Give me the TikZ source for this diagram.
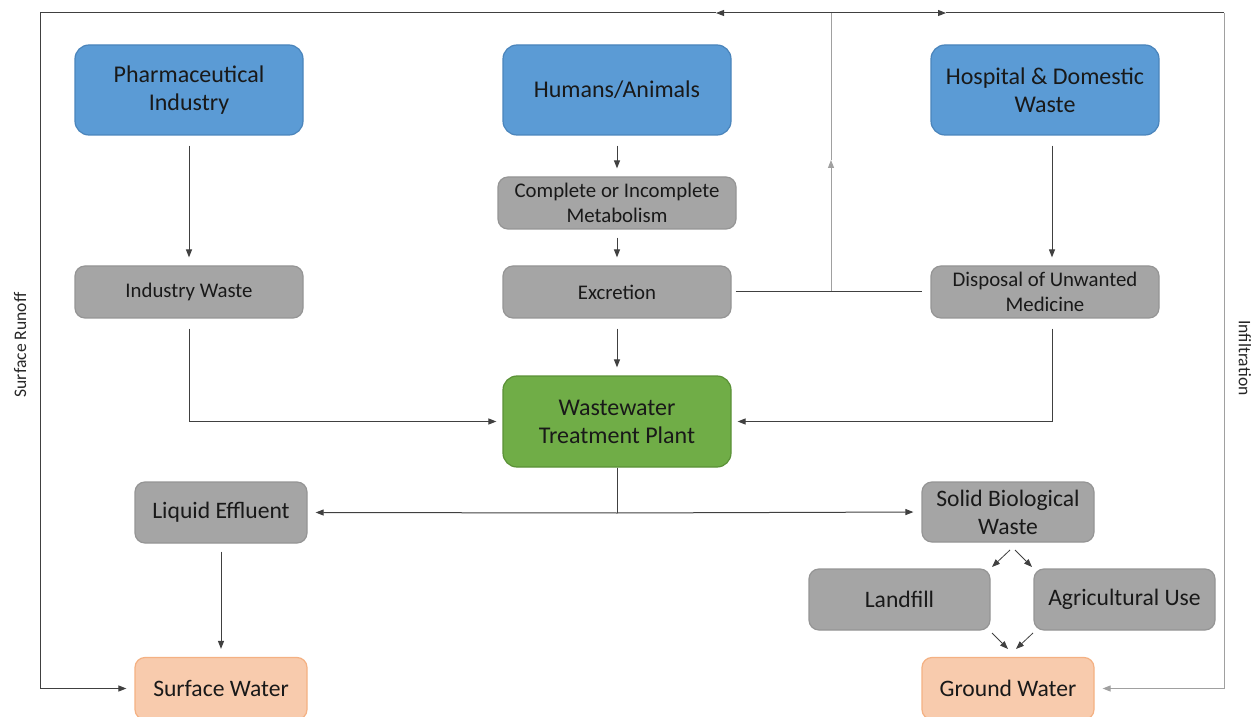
\documentclass[tikz,border=0pt]{standalone}
\usepackage{fontspec}
\setmainfont{Carlito}
\usetikzlibrary{arrows.meta,calc}
\definecolor{bluef}{HTML}{5B9BD5}
\definecolor{blueb}{HTML}{4A84BB}
\definecolor{grayf}{HTML}{A5A5A5}
\definecolor{grayb}{HTML}{959595}
\definecolor{greenf}{HTML}{70AD47}
\definecolor{greenb}{HTML}{5A9136}
\definecolor{peachf}{HTML}{F8CBAD}
\definecolor{peachb}{HTML}{F4B183}
\definecolor{ln}{HTML}{404040}
\definecolor{lg}{HTML}{A0A0A0}
\tikzset{
  x=0.5pt,y=-0.5pt,
  box/.style={rounded corners=7pt,line width=0.6pt,align=center,inner sep=1pt,text=black!90},
  bluebox/.style={box,fill=bluef,draw=blueb,minimum width=114pt,minimum height=45pt,font=\fontsize{12}{14}\selectfont},
  graybox/.style={box,fill=grayf,draw=grayb,rounded corners=5pt,minimum width=114pt,minimum height=26pt,font=\fontsize{10.4}{12.5}\selectfont},
  graybig/.style={box,fill=grayf,draw=grayb,rounded corners=5pt,minimum width=86pt,minimum height=30.5pt,font=\fontsize{11.8}{14}\selectfont},
  greenbox/.style={box,fill=greenf,draw=greenb,minimum width=114pt,minimum height=45.5pt,font=\fontsize{12}{14}\selectfont},
  peachbox/.style={box,fill=peachf,draw=peachb,rounded corners=5pt,minimum width=86pt,minimum height=31pt,font=\fontsize{11.8}{14}\selectfont},
  con/.style={draw=ln,line width=0.5pt},
  arr/.style={con,-{Triangle[length=4pt,width=3pt]}},
  sideLabel/.style={font=\fontsize{8.8}{10}\selectfont,text=black!85}
}
\begin{document}
\begin{tikzpicture}
\useasboundingbox (0,0) rectangle (1255,717);
\clip (0,0) rectangle (1255,717);
% nodes
\node[bluebox] (ph) at (189,90) {Pharmaceutical\\Industry};
\node[bluebox] (hu) at (617,90) {Humans/Animals};
\node[bluebox] (ho) at (1045,90) {Hospital \& Domestic\\Waste};
\node[graybox,minimum width=119pt] (me) at (617,203) {Complete or Incomplete\\Metabolism};
\node[graybox] (iw) at (189,292) {Industry Waste};
\node[graybox] (ex) at (617,292) {Excretion};
\node[graybox] (di) at (1045,292) {Disposal of Unwanted\\Medicine};
\node[greenbox] (ww) at (617,421.5) {Wastewater\\Treatment Plant};
\node[graybig] (le) at (221,512.5) {Liquid Effluent};
\node[graybig,minimum height=30pt] (sb) at (1008,512) {Solid Biological\\Waste};
\node[graybig,minimum width=90.5pt] (lf) at (899.5,599.5) {Landfill};
\node[graybig,minimum width=90.5pt] (ag) at (1124.5,599.5) {Agricultural Use};
\node[peachbox] (sw) at (221,688.5) {Surface Water};
\node[peachbox] (gw) at (1008,688.5) {Ground Water};
% labels
\node[sideLabel,rotate=90] (sr) at (20,345) {Surface Runoff};
\node[sideLabel,rotate=-90] (inf) at (1245,358) {Infiltration};
% coordinates
\coordinate (j1) at (831,291);
\coordinate (jm) at (831,160);
\coordinate (jt) at (831,13);
\coordinate (tl) at (40,13);
\coordinate (tr) at (1224,13);
\coordinate (al) at (716,13);
\coordinate (ar) at (946,13);
\coordinate (wb) at (617,513);
\coordinate (s1) at (1010,550);
\coordinate (s2) at (1015,550);
\coordinate (l1) at (992,567);
\coordinate (a1) at (1032,567);
\coordinate (l2) at (992,633);
\coordinate (a2) at (1033,633);
\coordinate (g1) at (1008,649);
\coordinate (g2) at (1016,649);
% connectors
\draw[arr,shorten <=5pt,shorten >=4pt] (ph.south) -- (iw.north);
\draw[arr,shorten <=5pt,shorten >=4pt] (hu.south) -- (me.north);
\draw[arr,shorten <=4pt,shorten >=4pt] (me.south) -- (ex.north);
\draw[arr,shorten <=5pt,shorten >=4pt] (ex.south) -- (ww.north);
\draw[arr,shorten <=5pt,shorten >=4pt] ([xshift=3.5pt]ho.south) -- ([xshift=3.5pt]di.north);
\draw[arr,shorten <=5pt,shorten >=3pt] (iw.south) |- (ww.west);
\draw[arr,shorten <=5pt,shorten >=3pt] ([xshift=3.5pt]di.south) |- (ww.east);
\draw[con,shorten <=2pt,shorten >=4pt] (ex.east) -- (di.west);
\draw[arr,draw=lg] (j1) -- (jm);
\draw[con,draw=lg] (jm) -- (jt);
\draw[arr] (jt) -- (al);
\draw[arr] (jt) -- (ar);
\draw[con] (al) -- (tl);
\draw[con] (ar) -- (tr);
\draw[arr,shorten >=4pt] (tl) |- (sw.west);
\draw[arr,draw=lg,shorten >=4pt] (tr) |- (gw.east);
\draw[con] (ww.south) -- (wb);
\draw[arr,shorten >=4pt] (wb) -- (le.east);
\draw[arr,shorten >=4pt] (wb) -- (sb.west);
\draw[arr,shorten <=4pt,shorten >=4pt] (le.south) -- (sw.north);
\draw[arr,line width=0.4pt] (s1) -- (l1);
\draw[arr,line width=0.4pt] (s2) -- (a1);
\draw[arr,line width=0.4pt] (l2) -- (g1);
\draw[arr,line width=0.4pt] (a2) -- (g2);
\end{tikzpicture}
\end{document}
